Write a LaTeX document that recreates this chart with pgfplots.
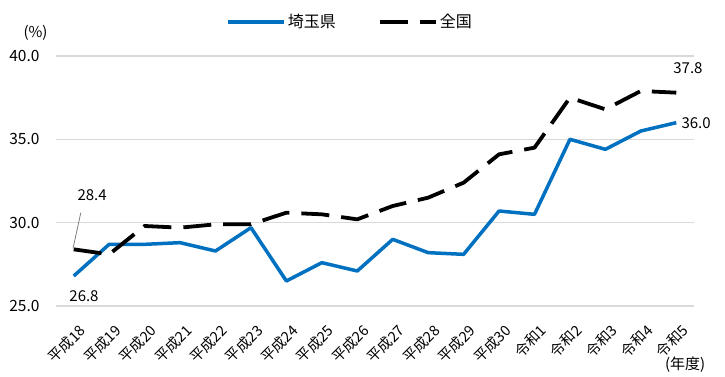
\documentclass[border=0pt]{standalone}
\usepackage{fontspec}
\setmainfont{Noto Sans CJK JP}
\usepackage{pgfplots}
\pgfplotsset{compat=1.18}
\definecolor{saitama}{HTML}{0070C0}
\definecolor{gridc}{HTML}{D9D9D9}
\pgfplotstableread{
x blue black
0 26.8 28.4
1 28.7 28.1
2 28.7 29.8
3 28.8 29.7
4 28.3 29.9
5 29.7 29.9
6 26.5 30.6
7 27.6 30.5
8 27.1 30.2
9 29.0 31.0
10 28.2 31.5
11 28.1 32.4
12 30.7 34.1
13 30.5 34.5
14 35.0 37.5
15 34.4 36.8
16 35.5 37.9
17 36.0 37.8
}\datatable
\begin{document}
\begin{tikzpicture}[x=1pt,y=1pt]
\path[use as bounding box] (0,0) rectangle (725,377);
\begin{axis}[
  at={(56pt,71pt)}, anchor=south west,
  scale only axis, width=638pt, height=250pt,
  xmin=-0.5, xmax=17.5, ymin=25, ymax=40,
  xtick={0,...,17},
  xticklabels={平成18,平成19,平成20,平成21,平成22,平成23,平成24,平成25,平成26,平成27,平成28,平成29,平成30,令和1,令和2,令和3,令和4,令和5},
  ytick={25,30,35,40},
  /pgf/number format/assume math mode=true,
  yticklabel={\pgfmathprintnumber[fixed,fixed zerofill,precision=1]{\tick}},
  yticklabel style={font=\fontsize{15.5}{15.5}\selectfont, xshift=-13pt},
  xticklabel style={font=\fontsize{14.5}{14.5}\selectfont, rotate=45, anchor=north east, inner sep=0pt, xshift=-9pt, yshift=-15pt},
  axis line style={draw=none},
  major tick length=0pt,
  ymajorgrids, grid style={draw=gridc, line width=1.5pt},
  clip=false,
  legend style={at={(rel axis cs:0.461,1.136)}, anchor=center, draw=none, fill=none,
    font=\fontsize{16}{16}\selectfont, legend columns=2,
    /tikz/every even column/.append style={column sep=40pt}},
  legend image code/.code={\draw[#1] (0pt,0pt) -- (56pt,0pt);},
]
\addplot[color=saitama, line width=3.5pt, line join=round] table[x=x, y=blue] {\datatable};
\addlegendentry{埼玉県}
\addplot[color=black, line width=3.8pt, dash pattern=on 28pt off 12pt, line join=round] table[x=x, y=black] {\datatable};
\addlegendentry{全国}
\draw[gray, line width=0.8pt] (axis cs:-0.02,28.45) -- (axis cs:0.2,30.6);
\node[font=\fontsize{15}{15}\selectfont] at (axis cs:0.52,31.66) {28.4};
\node[font=\fontsize{15}{15}\selectfont] at (axis cs:0.29,25.6) {26.8};
\node[font=\fontsize{15}{15}\selectfont] at (axis cs:17.33,39.28) {37.8};
\node[font=\fontsize{15}{15}\selectfont] at (axis cs:17.56,35.98) {36.0};
\node[font=\fontsize{15}{15}\selectfont] at (rel axis cs:-0.032,1.092) {(\%)};
\node[font=\fontsize{15}{15}\selectfont] at (axis cs:17.25,21.5) {(年度)};
\end{axis}
\end{tikzpicture}
\end{document}
